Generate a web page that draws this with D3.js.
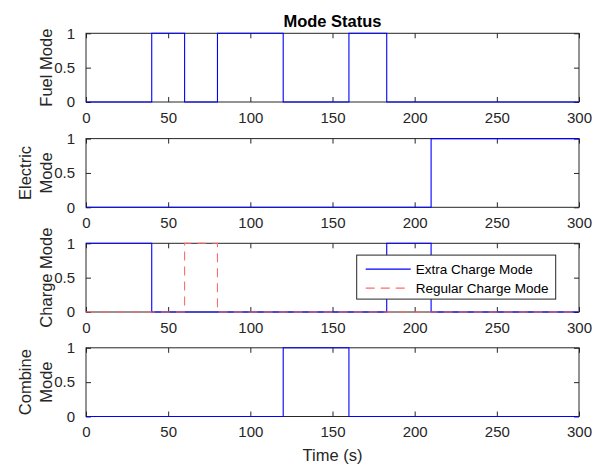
<!DOCTYPE html>
<html>
<head>
<meta charset="utf-8">
<script src="https://cdn.jsdelivr.net/npm/d3@7"></script>
<style>
  body { margin: 0; background: #fff; }
  svg { font-family: "Liberation Sans", Arial, sans-serif; }
</style>
</head>
<body>
<div id="chart-area"></div>
<script>
// Data (step series: value holds from each time until the next one)
var xTicks = [0, 50, 100, 150, 200, 250, 300];
var yTicks = [0, 0.5, 1];

var fuelT = [0, 40, 60, 80, 120, 160, 183, 300];
var fuelV = [0, 1, 0, 1, 0, 1, 0, 0];

var electricT = [0, 210, 300];
var electricV = [0, 1, 1];

var extraChargeT = [0, 40, 183, 210, 300];
var extraChargeV = [1, 0, 1, 0, 0];

var regularChargeT = [0, 60, 80, 300];
var regularChargeV = [0, 1, 0, 0];

var combineT = [0, 120, 160, 300];
var combineV = [0, 1, 0, 0];

var panelLabels = [["Fuel Mode"], ["Electric", "Mode"], ["Charge Mode"], ["Combine", "Mode"]];

var width = 598, height = 465;
var left = 86, right = 579;
var tops = [33.3, 138.6, 243.3, 347.8];
var ph = 68.7;
var axisColor = "#262626";

var svg = d3.select("#chart-area")
    .append("svg")
        .attr("width", width)
        .attr("height", height);

var x = d3.scaleLinear().domain([0, 300]).range([left, right]);

function series(t, v) {
    return t.map(function(d, i){ return { t: d, v: v[i] }; });
}

var panels = [
    [{ data: series(fuelT, fuelV), color: "#0000ff", dash: null }],
    [{ data: series(electricT, electricV), color: "#0000ff", dash: null }],
    [{ data: series(extraChargeT, extraChargeV), color: "#0000ff", dash: null },
     { data: series(regularChargeT, regularChargeV), color: "#ff6b6b", dash: "9,6" }],
    [{ data: series(combineT, combineV), color: "#0000ff", dash: null }]
];

panels.forEach(function(lines, k) {
    var top = tops[k], bottom = top + ph;
    var y = d3.scaleLinear().domain([0, 1]).range([bottom, top]);
    var g = svg.append("g");

    // Box
    g.append("rect")
        .attr("x", left).attr("y", top)
        .attr("width", right - left).attr("height", ph)
        .attr("fill", "#fff")
        .attr("stroke", axisColor)
        .attr("stroke-width", 1);

    // X Axis (bottom with labels, top ticks only)
    var xb = g.append("g")
        .attr("transform", "translate(0," + bottom + ")")
        .call(d3.axisBottom(x).tickValues(xTicks).tickSizeInner(-5).tickSizeOuter(0).tickPadding(10));
    var xt = g.append("g")
        .attr("transform", "translate(0," + top + ")")
        .call(d3.axisTop(x).tickValues(xTicks).tickSizeInner(-5).tickSizeOuter(0).tickFormat(""));

    // Y Axis
    var yl = g.append("g")
        .attr("transform", "translate(" + left + ",0)")
        .call(d3.axisLeft(y).tickValues(yTicks).tickSizeInner(-5).tickSizeOuter(0).tickPadding(11)
            .tickFormat(function(d){ return d; }));
    var yr = g.append("g")
        .attr("transform", "translate(" + right + ",0)")
        .call(d3.axisRight(y).tickValues(yTicks).tickSizeInner(-5).tickSizeOuter(0).tickFormat(""));

    [xb, xt, yl, yr].forEach(function(a) {
        a.select(".domain").remove();
        a.selectAll("line").attr("stroke", axisColor);
        a.selectAll("text")
            .attr("fill", axisColor)
            .attr("font-size", "15px")
            .attr("font-family", "Liberation Sans, Arial, sans-serif");
    });

    // Lines
    var line = d3.line()
        .x(function(d){ return x(d.t); })
        .y(function(d){ return y(d.v); })
        .curve(d3.curveStepAfter);

    lines.forEach(function(s) {
        g.append("path")
            .datum(s.data)
            .attr("fill", "none")
            .attr("stroke", s.color)
            .attr("stroke-width", 1.1)
            .attr("stroke-dasharray", s.dash)
            .attr("d", line);
    });

    // Y Label
    var lab = panelLabels[k];
    lab.forEach(function(txt, i) {
        var bx = 51.5 - (lab.length - 1 - i) * 21;
        g.append("text")
            .attr("transform", "translate(" + bx + "," + (top + ph / 2) + ") rotate(-90)")
            .attr("text-anchor", "middle")
            .attr("font-size", "16.5px")
            .attr("fill", axisColor)
            .text(txt);
    });
});

// Title
svg.append("text")
    .attr("x", (left + right) / 2)
    .attr("y", 26.5)
    .attr("text-anchor", "middle")
    .attr("font-size", "16.5px")
    .attr("font-weight", "bold")
    .attr("fill", "#000")
    .text("Mode Status");

// X Label
svg.append("text")
    .attr("x", (left + right) / 2)
    .attr("y", 461)
    .attr("text-anchor", "middle")
    .attr("font-size", "16.5px")
    .attr("fill", axisColor)
    .text("Time (s)");

// Legend (charge panel)
var legendItems = [
    { name: "Extra Charge Mode", color: "#0000ff", dash: null },
    { name: "Regular Charge Mode", color: "#ff6b6b", dash: "9,6" }
];
var lgX = 356.7, lgY = tops[2] + 11.8, lgW = 199, lgH = 44;
var lg = svg.append("g").attr("transform", "translate(" + lgX + "," + lgY + ")");
lg.append("rect")
    .attr("width", lgW).attr("height", lgH)
    .attr("fill", "#fff")
    .attr("stroke", axisColor)
    .attr("stroke-width", 1);
legendItems.forEach(function(d, i) {
    var cy = 14 + i * 19;
    lg.append("line")
        .attr("x1", 9).attr("x2", 54)
        .attr("y1", cy).attr("y2", cy)
        .attr("stroke", d.color)
        .attr("stroke-width", 1.1)
        .attr("stroke-dasharray", d.dash);
    lg.append("text")
        .attr("x", 59).attr("y", cy + 4.8)
        .attr("font-size", "13.5px")
        .attr("fill", "#000")
        .text(d.name);
});
</script>
</body>
</html>
